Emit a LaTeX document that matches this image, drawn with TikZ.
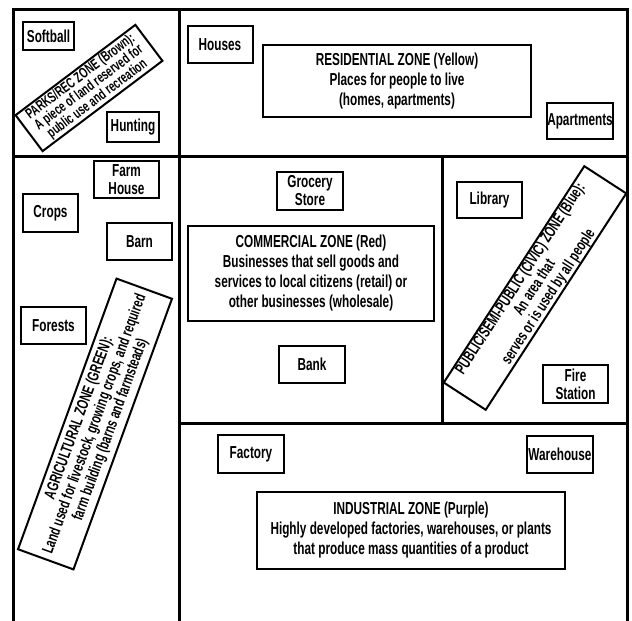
\documentclass[tikz,border=0pt]{standalone}
\usepackage{fontspec}
\setmainfont{Liberation Sans}[FakeStretch=0.68]
\tikzset{
	zoneline/.style={line width=2.25pt},
	lot/.style={draw, line width=1.5pt, inner sep=0pt, align=center, minimum width=48.75pt, minimum height=27.75pt, font=\bfseries\fontsize{13}{13.5}\selectfont},
	zonebox/.style={lot, font=\bfseries\fontsize{13}{15}\selectfont},
	tiltbox/.style={lot, font=\bfseries\fontsize{12}{12.5}\selectfont},
}
\begin{document}
\begin{tikzpicture}[x=0.75pt,y=-0.75pt]
		\useasboundingbox (0,0) rectangle (632,621);
		% zone borders
		\draw[zoneline] (13,621) -- (13,9) -- (627,9) -- (627,621);
		\draw[zoneline] (179,9) -- (179,621);
		\draw[zoneline] (13,156) -- (627,156);
		\draw[zoneline] (179,423) -- (627,423);
		\draw[zoneline] (442,156) -- (442,423);
		% parks / rec
		\node[lot, minimum width=38.25pt, minimum height=21pt] (Soft) at (48.5,36) {Softball};
		\node[lot, minimum width=39pt, minimum height=22.5pt] (Hunt) at (133,127) {Hunting};
		\node[tiltbox, rotate=37, minimum width=112.5pt, minimum height=33.75pt, font=\bfseries\fontsize{11}{10.5}\selectfont] (Parks) at (89,88) {PARKS/REC ZONE (Brown):\\A piece of land reserved for\\public use and recreation};
		% residential
		\node[lot] (Hous) at (220,44.5) {Houses};
		\node[zonebox, minimum width=201pt, minimum height=54pt] (Res) at (397,81) {RESIDENTIAL ZONE (Yellow)\\Places for people to live\\(homes, apartments)};
		\node[lot, minimum width=48pt, minimum height=27pt] (Apts) at (580,121) {Apartments};
		% agricultural
		\node[lot] (Farm) at (126.5,179.5) {Farm\\House};
		\node[lot, minimum width=41.25pt, minimum height=28.5pt] (Crops) at (50.5,213) {Crops};
		\node[lot] (Barn) at (139.5,241.5) {Barn};
		\node[lot] (Forest) at (53.5,325.5) {Forests};
		\node[tiltbox, rotate=70, minimum width=216pt, minimum height=44.25pt] (Agri) at (95,424) {AGRICULTURAL ZONE (GREEN):\\Land used for livestock, growing crops, and required\\farm building (barns and farmsteads)};
		% commercial
		\node[lot, minimum width=49.5pt, minimum height=28.5pt] (Groc) at (310,191) {Grocery\\Store};
		\node[zonebox, minimum width=184.5pt, minimum height=71.25pt] (Com) at (311,273.5) {COMMERCIAL ZONE (Red)\\Businesses that sell goods and\\services to local citizens (retail) or\\other businesses (wholesale)};
		\node[lot, minimum width=49.5pt] (Bank) at (312,364.5) {Bank};
		% public
		\node[lot, minimum height=27pt] (Lib) at (489.5,200) {Library};
		\node[lot, minimum height=28.5pt] (Fire) at (575.5,384) {Fire\\Station};
		\node[tiltbox, rotate=57, minimum width=193.5pt, minimum height=37.5pt] (Pub) at (535,288) {PUBLIC/SEMI-PUBLIC (CIVIC) ZONE (Blue):\\An area that\\serves or is used by all people};
		% industrial
		\node[lot, minimum width=49.5pt, minimum height=28.5pt] (Fact) at (251,454) {Factory};
		\node[lot, minimum width=49.5pt] (Ware) at (560,454.5) {Warehouse};
		\node[zonebox, minimum width=231pt, minimum height=57.75pt] (Ind) at (411,530.5) {INDUSTRIAL ZONE (Purple)\\Highly developed factories, warehouses, or plants\\that produce mass quantities of a product};
	\end{tikzpicture}
\end{document}
